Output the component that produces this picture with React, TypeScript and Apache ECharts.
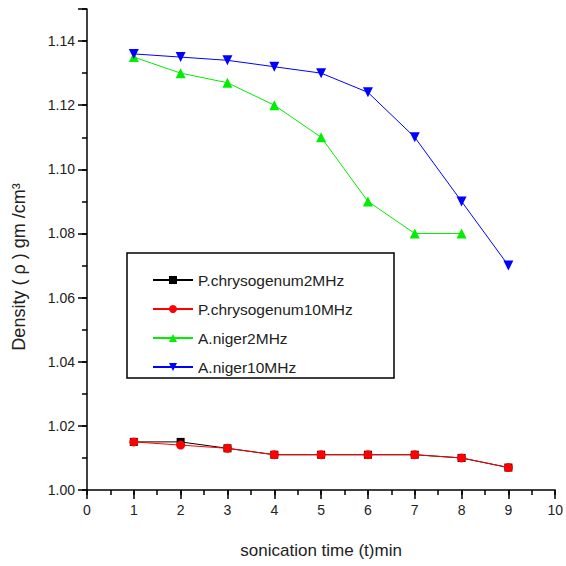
import React, { useEffect, useRef } from "react";
import * as echarts from "echarts";

const times = [1, 2, 3, 4, 5, 6, 7, 8, 9];
const pChrys2 = [1.015, 1.015, 1.013, 1.011, 1.011, 1.011, 1.011, 1.010, 1.007];
const pChrys10 = [1.015, 1.014, 1.013, 1.011, 1.011, 1.011, 1.011, 1.010, 1.007];
const aNiger2 = [1.135, 1.130, 1.127, 1.120, 1.110, 1.090, 1.080, 1.080];
const aNiger10 = [1.136, 1.135, 1.134, 1.132, 1.130, 1.124, 1.110, 1.090, 1.070];
const seriesNames = ["P.chrysogenum2MHz", "P.chrysogenum10MHz", "A.niger2MHz", "A.niger10MHz"];
const xTitle = "sonication time (t)min";
const yTitle = "Density ( ρ ) gm /cm³";

const pairs = (vals: number[]) => vals.map((v, i) => [times[i], v]);

export default function App() {
  const ref = useRef<HTMLDivElement>(null);
  useEffect(() => {
    if (!ref.current) return;
    const chart = echarts.init(ref.current, undefined, { renderer: "svg" });
    const font = "Liberation Sans, Arial, sans-serif";
    const grid = { left: 87, right: 9, top: 9, bottom: 76 };
    const lineSeries = (name: string, data: number[], color: string, symbol: string, size: number, rotate = 0) => ({
      type: "line",
      name,
      data: pairs(data),
      symbol,
      symbolSize: size,
      symbolRotate: rotate,
      lineStyle: { color, width: 1 },
      itemStyle: { color },
      xAxisIndex: 0,
      yAxisIndex: 0,
    });
    chart.setOption({
      animation: false,
      backgroundColor: "#fff",
      grid,
      xAxis: [
        {
          type: "value",
          min: 0,
          max: 10,
          interval: 0.5,
          position: "bottom",
          name: xTitle,
          nameLocation: "middle",
          nameGap: 52,
          nameTextStyle: { fontFamily: font, fontSize: 17, color: "#222" },
          axisLine: { lineStyle: { color: "#000", width: 1.5 } },
          axisTick: { show: true, inside: false, length: 5, lineStyle: { color: "#000", width: 1.5 } },
          axisLabel: {
            margin: 13,
            fontFamily: font,
            fontSize: 14,
            color: "#222",
            formatter: (v: number) => (Math.abs(v - Math.round(v)) < 1e-6 ? String(Math.round(v)) : ""),
          },
          splitLine: { show: false },
        },
        {
          type: "value",
          min: 0,
          max: 10,
          interval: 1,
          position: "bottom",
          axisLine: { show: false },
          axisTick: { show: true, length: 9, lineStyle: { color: "#000", width: 1.5 } },
          axisLabel: { show: false },
          splitLine: { show: false },
        },
      ],
      yAxis: [
        {
          type: "value",
          min: 1.0,
          max: 1.15,
          interval: 0.01,
          position: "left",
          axisLine: { show: true, lineStyle: { color: "#000", width: 1.5 } },
          axisTick: { show: true, length: 5, lineStyle: { color: "#000", width: 1.5 } },
          axisLabel: {
            margin: 12,
            fontFamily: font,
            fontSize: 14,
            color: "#222",
            formatter: (v: number) => {
              const h = Math.round(v * 100);
              return h % 2 === 0 && h < 115 ? (h / 100).toFixed(2) : "";
            },
          },
          splitLine: { show: false },
        },
        {
          type: "value",
          min: 1.0,
          max: 1.15,
          interval: 0.02,
          position: "left",
          axisLine: { show: false },
          axisTick: { show: true, length: 9, lineStyle: { color: "#000", width: 1.5 } },
          axisLabel: { show: false },
          splitLine: { show: false },
        },
      ],
      legend: {
        orient: "vertical",
        left: 147,
        top: 267,
        itemWidth: 40,
        itemHeight: 10,
        itemGap: 13,
        textStyle: { fontFamily: font, fontSize: 15.5, color: "#222", lineHeight: 15 },
        data: seriesNames,
      },
      graphic: [
        {
          type: "rect",
          shape: { x: 127, y: 253, width: 267, height: 125 },
          style: { fill: "none", stroke: "#000", lineWidth: 1.5 },
          z: 10,
        },
        {
          type: "text",
          x: 19,
          y: 267,
          rotation: Math.PI / 2,
          style: {
            text: yTitle,
            fontFamily: font,
            fontSize: 18,
            fill: "#222",
            align: "center",
            verticalAlign: "middle",
          },
        },
      ],
      series: [
        lineSeries(seriesNames[0], pChrys2, "#000000", "rect", 8),
        lineSeries(seriesNames[1], pChrys10, "#ff0000", "circle", 9),
        lineSeries(seriesNames[2], aNiger2, "#00ee00", "triangle", 10),
        lineSeries(seriesNames[3], aNiger10, "#0000ff", "triangle", 10, 180),
      ],
    });
    return () => chart.dispose();
  }, []);
  return <div ref={ref} style={{ position: "absolute", left: 0, top: 0, width: 566, height: 566 }} />;
}
